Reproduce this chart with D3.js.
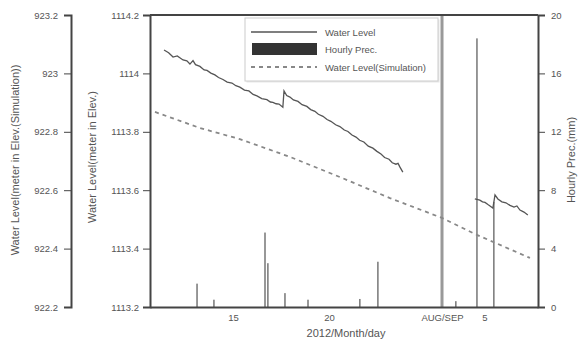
<!DOCTYPE html>
<html>
<head>
<meta charset="utf-8">
<script src="https://cdn.jsdelivr.net/npm/d3@7"></script>
<style>
  body { margin: 0; background: #fff; }
  svg { display: block; font-family: "Liberation Sans", Arial, sans-serif; }
  .axis path, .axis line { stroke: #444; }
  .axis text { fill: #555; font-size: 9.5px; }
</style>
</head>
<body>
<div id="chart"></div>
<script>
// x is a continuous "plot day": July days on the left of the break, September shifted after it
const xTickValues = [15, 20, 25.89, 28.1];
const xTickLabels = ['15', '20', 'AUG/SEP', '5'];
const breakDay = 25.89;

// observed water level, two segments (day, m)
const observedJul = [
  [11.41, 1114.080], [11.65, 1114.071], [11.88, 1114.056], [12.1, 1114.060], [12.4, 1114.046],
  [12.6, 1114.043], [12.76, 1114.032], [12.92, 1114.044], [13.05, 1114.030], [13.28, 1114.024],
  [13.5, 1114.012], [13.65, 1114.010], [13.85, 1114.001], [14.06, 1113.995], [14.25, 1113.986],
  [14.48, 1113.979], [14.7, 1113.970], [14.95, 1113.967], [15.15, 1113.958], [15.36, 1113.953],
  [15.6, 1113.943], [15.83, 1113.940], [16.05, 1113.928], [16.25, 1113.923], [16.5, 1113.914],
  [16.77, 1113.910], [16.95, 1113.902], [17.08, 1113.901], [17.25, 1113.896], [17.4, 1113.895],
  [17.6, 1113.884], [17.66, 1113.940], [17.8, 1113.924], [17.97, 1113.919], [18.15, 1113.909],
  [18.39, 1113.904], [18.6, 1113.893], [18.85, 1113.887], [19.05, 1113.876], [19.27, 1113.870],
  [19.45, 1113.860], [19.69, 1113.853], [19.9, 1113.842], [20.1, 1113.836], [20.35, 1113.824],
  [20.57, 1113.818], [20.8, 1113.806], [20.99, 1113.801], [21.2, 1113.789], [21.41, 1113.782],
  [21.6, 1113.771], [21.82, 1113.765], [22.05, 1113.751], [22.29, 1113.744], [22.5, 1113.733],
  [22.71, 1113.724], [22.9, 1113.712], [23.13, 1113.706], [23.3, 1113.694], [23.49, 1113.689],
  [23.6, 1113.692], [23.7, 1113.679], [23.85, 1113.662]
];
const observedSep = [
  [27.6, 1113.570], [27.86, 1113.566], [28.0, 1113.560], [28.13, 1113.558], [28.3, 1113.550],
  [28.39, 1113.546], [28.54, 1113.539], [28.65, 1113.584], [28.8, 1113.570], [29.01, 1113.560],
  [29.22, 1113.557], [29.43, 1113.548], [29.64, 1113.542], [29.79, 1113.546], [29.95, 1113.532],
  [30.16, 1113.525], [30.36, 1113.515]
];

// simulated water level (day, m)
const simulated = [
  [10.94, 922.868], [13.28, 922.813], [15.36, 922.775], [17.97, 922.714], [20.57, 922.645],
  [23.18, 922.573], [25.89, 922.505], [27.71, 922.447], [30.47, 922.368]
];

// hourly precipitation (day, mm)
const precipDays = [13.13, 14.01, 16.67, 16.82, 17.71, 18.91, 21.61, 22.55, 26.61, 27.71, 28.59];
const precipMm   = [1.6, 0.5, 5.1, 3.0, 0.95, 0.5, 0.55, 3.1, 0.4, 18.4, 7.2];

const obsTicks = [1113.2, 1113.4, 1113.6, 1113.8, 1114, 1114.2];
const simTicks = [922.2, 922.4, 922.6, 922.8, 923, 923.2];
const precTicks = [0, 4, 8, 12, 16, 20];

const W = 584, H = 343;
const mLeft = 150, mRight = 538, mTop = 15, mBottom = 307;

const svg = d3.select('#chart').append('svg').attr('width', W).attr('height', H);

const x = d3.scaleLinear().domain([10.68, 30.89]).range([mLeft, mRight]);
const yObs = d3.scaleLinear().domain([1113.2, 1114.2]).range([mBottom, mTop]);
const ySim = d3.scaleLinear().domain([922.2, 923.2]).range([mBottom, mTop]);
const yPrec = d3.scaleLinear().domain([0, 20]).range([mBottom, mTop]);

// precipitation bars
svg.append('g').selectAll('rect')
  .data(precipDays.map((d, i) => ({ day: d, mm: precipMm[i] })))
  .enter().append('rect')
  .attr('x', d => x(d.day) - 0.75)
  .attr('y', d => yPrec(d.mm))
  .attr('width', 1.5)
  .attr('height', d => yPrec(0) - yPrec(d.mm))
  .attr('fill', '#777');

// axis break
svg.append('line')
  .attr('x1', x(breakDay)).attr('x2', x(breakDay))
  .attr('y1', mTop).attr('y2', mBottom)
  .attr('stroke', '#999').attr('stroke-width', 3);

// simulated
svg.append('path')
  .datum(simulated)
  .attr('fill', 'none')
  .attr('stroke', '#888')
  .attr('stroke-width', 1.8)
  .attr('stroke-dasharray', '4,4')
  .attr('d', d3.line().x(d => x(d[0])).y(d => ySim(d[1])));

// observed
const obsLine = d3.line().x(d => x(d[0])).y(d => yObs(d[1]));
[observedJul, observedSep].forEach(seg => {
  svg.append('path')
    .datum(seg)
    .attr('fill', 'none')
    .attr('stroke', '#555')
    .attr('stroke-width', 1.3)
    .attr('d', obsLine);
});

// frame top
svg.append('line')
  .attr('x1', mLeft).attr('x2', mRight).attr('y1', mTop).attr('y2', mTop)
  .attr('stroke', '#444').attr('stroke-width', 2);

function yAxisWithMinor(g, scale, ticks, fmt, pad) {
  const minor = d3.range(ticks.length - 1).map(i => (ticks[i] + ticks[i + 1]) / 2);
  g.call(d3.axisLeft(scale).tickValues(minor).tickSize(4).tickFormat(''));
  g.call(d3.axisLeft(scale).tickValues(ticks).tickSize(7).tickPadding(pad).tickFormat(fmt));
}

// outer left axis (simulation)
const gSim = svg.append('g').attr('class', 'axis').attr('transform', 'translate(71,0)');
yAxisWithMinor(gSim, ySim, simTicks, d3.format('~f'), 6);
gSim.selectAll('path').attr('stroke-width', 2);

// inner left axis (observed)
const gObs = svg.append('g').attr('class', 'axis').attr('transform', `translate(${mLeft},0)`);
yAxisWithMinor(gObs, yObs, obsTicks, d3.format('~f'), 4);
gObs.selectAll('path').attr('stroke-width', 2);

// right axis (precip)
const gPrec = svg.append('g').attr('class', 'axis').attr('transform', `translate(${mRight},0)`);
const precMinor = d3.range(precTicks.length - 1).map(i => (precTicks[i] + precTicks[i + 1]) / 2);
gPrec.call(d3.axisRight(yPrec).tickValues(precMinor).tickSize(4).tickFormat(''));
gPrec.call(d3.axisRight(yPrec).tickValues(precTicks).tickSize(7).tickPadding(6));
gPrec.selectAll('path').attr('stroke-width', 2);

// bottom axis
const gX = svg.append('g').attr('class', 'axis').attr('transform', `translate(0,${mBottom})`);
gX.call(d3.axisBottom(x).tickValues(xTickValues).tickSize(0).tickPadding(7)
  .tickFormat((d, i) => xTickLabels[i]));
gX.selectAll('path').attr('stroke-width', 2);

// axis titles
svg.append('text')
  .attr('transform', 'translate(19,160) rotate(-90)')
  .attr('text-anchor', 'middle').attr('font-size', 11).attr('fill', '#555')
  .text('Water Level(meter in Elev.(Simulation))');
svg.append('text')
  .attr('transform', 'translate(96,157) rotate(-90)')
  .attr('text-anchor', 'middle').attr('font-size', 11).attr('fill', '#555')
  .text('Water Level(meter in Elev.)');
svg.append('text')
  .attr('transform', 'translate(575,160) rotate(-90)')
  .attr('text-anchor', 'middle').attr('font-size', 11).attr('fill', '#555')
  .text('Hourly Prec.(mm)');
svg.append('text')
  .attr('x', 346).attr('y', 337)
  .attr('text-anchor', 'middle').attr('font-size', 11).attr('fill', '#555')
  .text('2012/Month/day');

// legend
const lg = svg.append('g').attr('transform', 'translate(245,18)');
lg.append('rect').attr('x', 1.5).attr('y', 1.5).attr('width', 193).attr('height', 63)
  .attr('fill', '#e8e8e8');
lg.append('rect').attr('width', 193).attr('height', 63)
  .attr('fill', '#fff').attr('stroke', '#ccc');
lg.append('line').attr('x1', 6).attr('x2', 72).attr('y1', 14).attr('y2', 14)
  .attr('stroke', '#555').attr('stroke-width', 1.3);
lg.append('rect').attr('x', 7).attr('y', 25).attr('width', 65).attr('height', 12)
  .attr('fill', '#333');
lg.append('line').attr('x1', 6).attr('x2', 72).attr('y1', 49).attr('y2', 49)
  .attr('stroke', '#888').attr('stroke-width', 1.8).attr('stroke-dasharray', '4,4');
const legendLabels = ['Water Level', 'Hourly Prec.', 'Water Level(Simulation)'];
lg.selectAll('text.lab').data(legendLabels).enter().append('text')
  .attr('class', 'lab')
  .attr('x', 80).attr('y', (d, i) => [17.5, 34.5, 52.5][i])
  .attr('font-size', 9.5).attr('fill', '#555')
  .text(d => d);
</script>
</body>
</html>
